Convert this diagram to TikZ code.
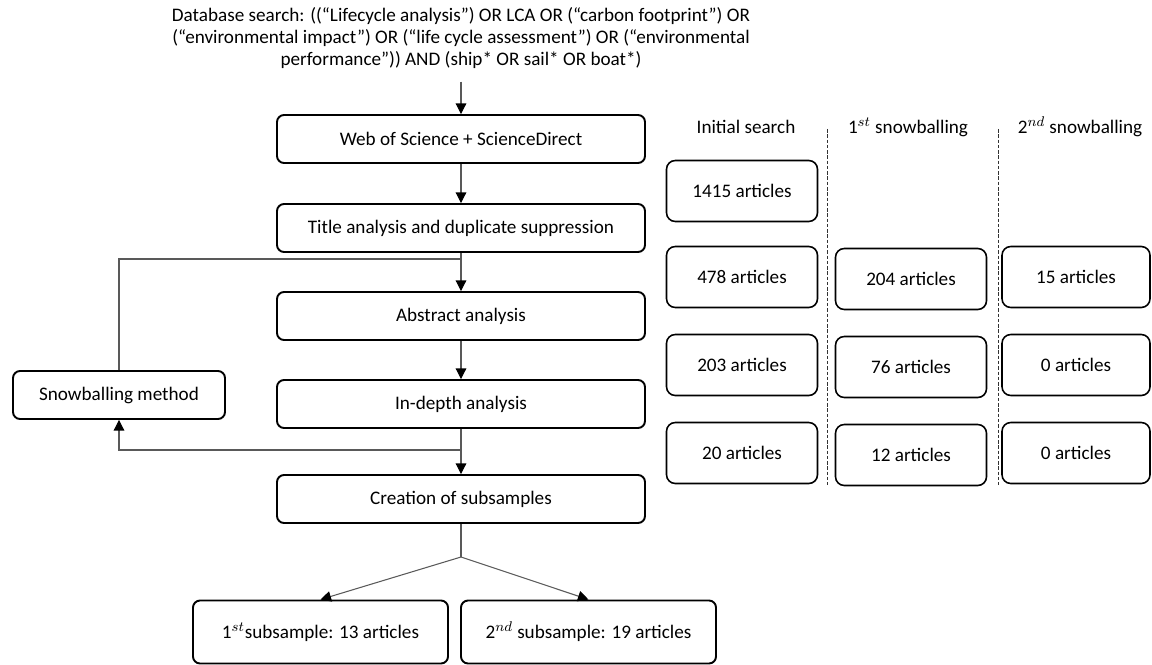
\documentclass[tikz,border=0pt]{standalone}
\usepackage{fontspec}
\setmainfont{Carlito}
\usetikzlibrary{arrows.meta,positioning}

\begin{document}
\begin{tikzpicture}[x=0.2mm, y=-0.2mm,
    every node/.style={font=\fontsize{10.9}{12.4}\selectfont},
    box/.style={draw, line width=1.1pt, rounded corners=4pt, minimum width=7.36cm, minimum height=0.96cm, inner sep=0pt},
    cbox/.style={draw, line width=0.9pt, rounded corners=5pt, minimum width=3.02cm, minimum height=1.22cm, inner sep=0pt},
    link/.style={draw=black!65, line width=0.6pt},
    arr/.style={link, -{Triangle[width=6pt,length=6pt,color=black]}},
    sep/.style={draw=black!80, line width=0.5pt, dash pattern=on 2pt off 1pt}]

    % Page frame (pixels of the reference)
    \useasboundingbox (0,0) rectangle (1152,665);

    % Search query
    \node[align=center] (query) at (461,38) {Database search: ((“Lifecycle analysis”) OR LCA OR (“carbon footprint”) OR\\
        (“environmental impact”) OR (“life cycle assessment”) OR (“environmental\\
        performance”)) AND (ship* OR sail* OR boat*)};

    % Main steps
    \node[box] (wos) at (461,139) {Web of Science + ScienceDirect};
    \node[box] (title) at (461,228) {Title analysis and duplicate suppression};
    \node[box] (abstract) at (461,316) {Abstract analysis};
    \node[box] (depth) at (461,404) {In-depth analysis};
    \node[box] (subs) at (461,499) {Creation of subsamples};
    \node[box, minimum width=4.24cm] (snow) at (119,395) {Snowballing method};
    \node[box, minimum width=5.1cm, minimum height=1.26cm] (sub1) at (320.5,632) {1$^{st}$subsample: 13 articles};
    \node[box, minimum width=5.1cm, minimum height=1.26cm] (sub2) at (588.5,632) {2$^{nd}$ subsample: 19 articles};

    % Junction points
    \coordinate (loopin) at (461,259);
    \coordinate (loopout) at (461,450);
    \coordinate (split) at (461,557);

    % Flow
    \draw[arr, shorten <=4pt] (query) -- (wos);
    \draw[arr] (wos) -- (title);
    \draw[link] (title) -- (loopin);
    \draw[arr] (snow) |- (loopin) -- (abstract);
    \draw[arr] (abstract) -- (depth);
    \draw[link] (depth) -- (loopout);
    \draw[arr] (loopout) -- (subs);
    \draw[arr] (loopout) -| (snow);
    \draw[link] (subs) -- (split);
    \draw[arr] (split) -- (sub1.north);
    \draw[arr] (split) -- (sub2.north);

    % Article counts
    \node (hinit) at (746,127) {Initial search};
    \node (hsnowa) at (908,127) {1$^{st}$ snowballing};
    \node (hsnowb) at (1080,127) {2$^{nd}$ snowballing};
    \draw[sep] (827,129) -- (827,485);
    \draw[sep] (998,129) -- (998,485);
    \foreach \n/\y/\k in {1415/191/a, 478/277/b, 203/365/c, 20/453/d}
        \node[cbox] (init-\k) at (742,\y) {\n\ articles};
    \foreach \n/\y/\k in {204/279/b, 76/367/c, 12/455/d}
        \node[cbox] (snowa-\k) at (911,\y) {\n\ articles};
    \foreach \n/\y/\k in {15/277/b, 0/365/c, 0/453/d}
        \node[cbox, minimum width=2.96cm] (snowb-\k) at (1076,\y) {\n\ articles};
\end{tikzpicture}
\end{document}
